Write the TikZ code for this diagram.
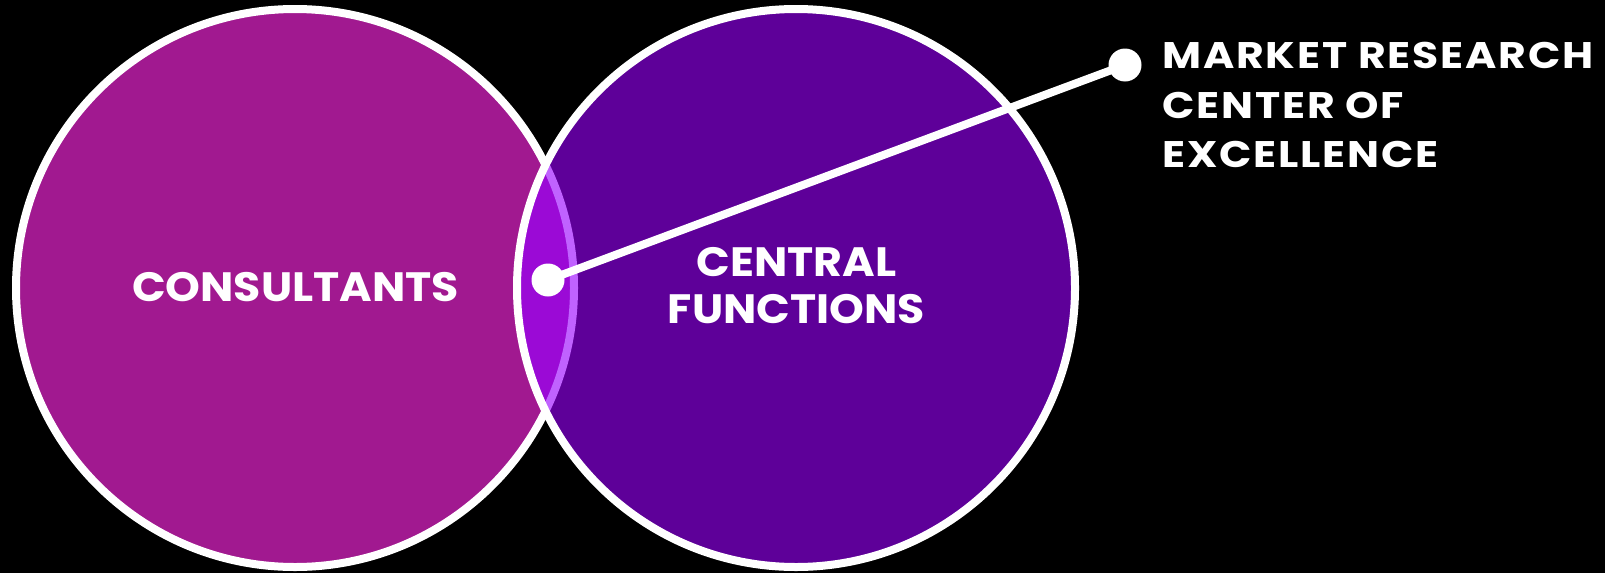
\documentclass[tikz,border=0pt]{standalone}
\usepackage{fontspec}
\setmainfont{Poppins}
\newfontfamily\lblfont{Poppins}[FakeStretch=1.08]
\newfontfamily\sidefont{Poppins}[FakeStretch=1.15, LetterSpace=5]
\definecolor{leftc}{RGB}{161,25,144}
\definecolor{rightc}{RGB}{94,0,153}
\definecolor{lensc}{RGB}{155,10,214}
\definecolor{lilac}{RGB}{192,98,255}
\begin{document}
\begin{tikzpicture}[x=1pt,y=-1pt,
  ring/.style={line width=8pt, draw=white},
  lbl/.style={text=white, font=\lblfont\bfseries\fontsize{41}{47}\selectfont, align=center, inner sep=0pt},
  side/.style={text=white, font=\sidefont\bfseries\fontsize{37}{49.5}\selectfont, align=left, inner sep=0pt, anchor=north west},
  dotn/.style={circle, fill=white, inner sep=0pt, minimum size=33pt}]
\fill[black] (0,0) rectangle (1605,573);
\useasboundingbox (0,0) rectangle (1605,573);
\coordinate (cl) at (295,288);
\coordinate (cr) at (796,288);
% left circle
\fill[leftc] (cl) circle (279);
\draw[ring] (cl) circle (279);
% right circle
\fill[rightc] (cr) circle (279);
% lens
\begin{scope}
  \clip (cl) circle (279);
  \fill[lensc] (cr) circle (279);
\end{scope}
\begin{scope}
  \clip (cr) circle (279);
  \draw[line width=8pt, draw=lilac] (cl) circle (279);
\end{scope}
\draw[ring] (cr) circle (279);
% labels
\node[lbl] (cons) at (295.5,287.5) {CONSULTANTS};
\node[lbl] (cent) at (796.5,285.5) {CENTRAL\\FUNCTIONS};
% connector
\coordinate (p1) at (548,280);
\coordinate (p2) at (1125,65);
\draw[white, line width=8pt] (p1) -- (p2);
\node[dotn] (d1) at (p1) {};
\node[dotn] (d2) at (p2) {};
\node[side] (mr) at (1162,42) {MARKET RESEARCH\\CENTER OF\\EXCELLENCE};
\end{tikzpicture}
\end{document}
